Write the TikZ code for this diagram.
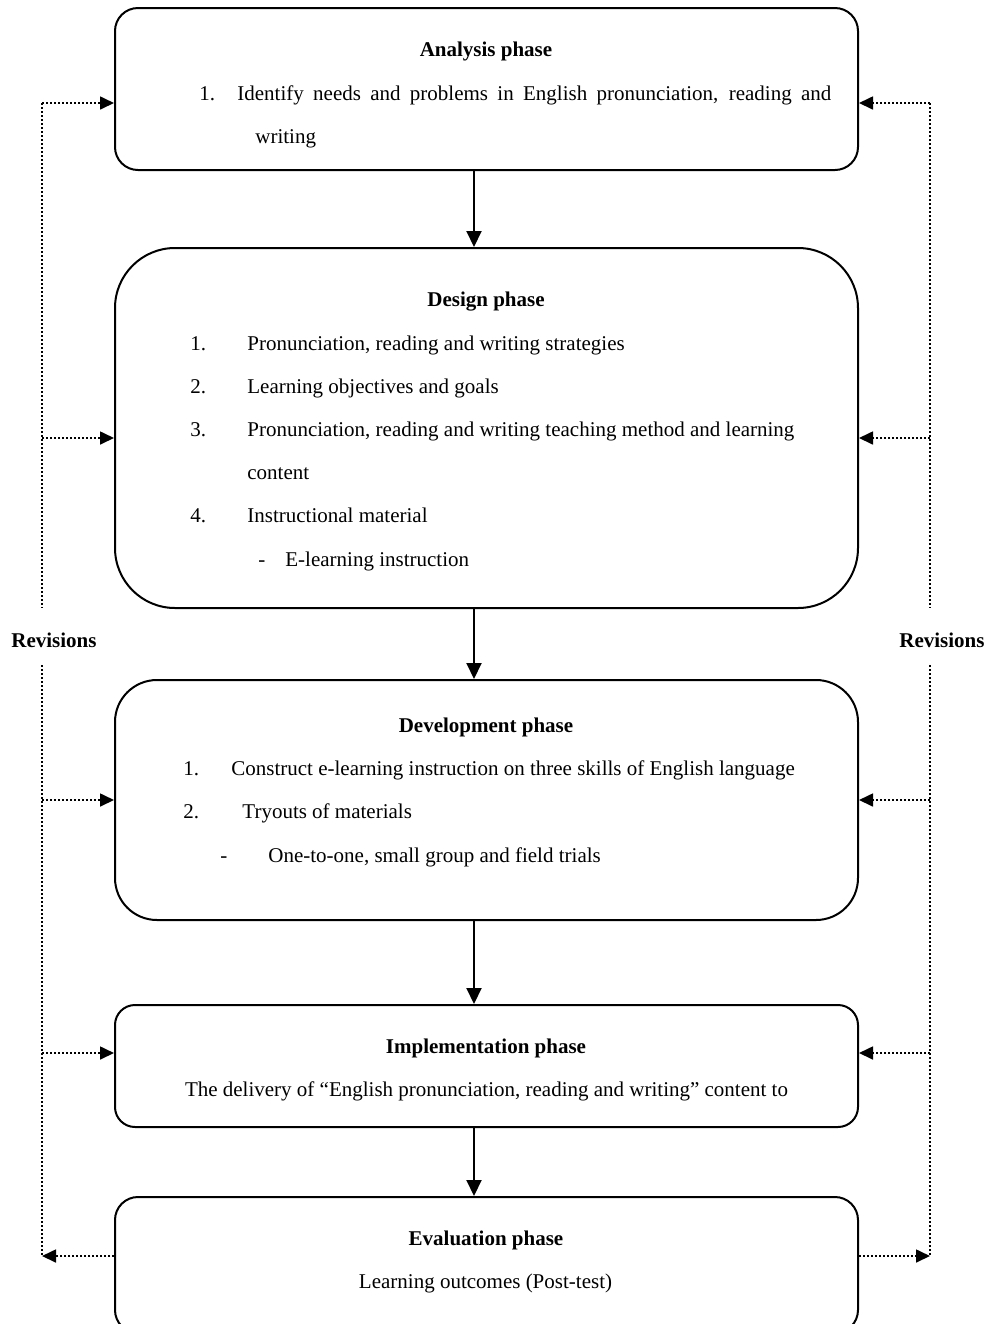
\documentclass[tikz,border=0pt]{standalone}
\usepackage{fontspec}
\setmainfont{Liberation Serif}
\usetikzlibrary{arrows.meta}
\usetikzlibrary{calc}
\tikzstyle{phase} = [rectangle, draw=black, line width=1pt, minimum width=371.5pt,
                     inner sep=0pt]
\tikzstyle{heading} = [anchor=base, inner sep=0pt, font=\fontsize{10.5}{21.5}\selectfont\bfseries]
\tikzstyle{entry} = [anchor=base west, inner sep=0pt]
\tikzstyle{flow} = [-{Triangle[length=8pt,width=7.5pt]}, line width=1pt]
\tikzstyle{rail} = [line width=0.85pt, dash pattern=on 0.85pt off 1.15pt]
\tikzstyle{revision} = [rail, -{Triangle[length=7pt,width=6.5pt]}]
\newcommand{\lbl}[2]{\makebox[#1][l]{#2}}

\begin{document}
\begin{tikzpicture}[x=0.5pt, y=-0.5pt, font=\fontsize{10.5}{21.5}\selectfont]
    \useasboundingbox (0,0) rectangle (987,1324);
    % phase boxes
    \node[phase, minimum height=81pt, rounded corners=11.5pt] (analysis) at (486.5,89) {};
    \node[phase, minimum height=180pt, rounded corners=30pt] (design) at (486.5,428) {};
    \node[phase, minimum height=120pt, rounded corners=21pt] (develop) at (486.5,800) {};
    \node[phase, minimum height=61pt, rounded corners=10pt] (implement) at (486.5,1066) {};
    \node[phase, minimum height=68pt, rounded corners=11.5pt] (evaluate) at (486.5,1265) {};
    % texts
    \node[heading] (antitle) at (486,56) {Analysis phase};
    \node[entry] (an1) at (199,100) {\lbl{19pt}{1.}\makebox[297pt][s]{Identify needs and problems in English pronunciation, reading and}};
    \node[entry] (an2) at (255,143) {writing};
    \node[heading] (detitle) at (486,306) {Design phase};
    \node[entry] (de1) at (190,350) {\lbl{28.5pt}{1.}Pronunciation, reading and writing strategies};
    \node[entry] (de2) at (190,393) {\lbl{28.5pt}{2.}Learning objectives and goals};
    \node[entry] (de3) at (190,436) {\lbl{28.5pt}{3.}Pronunciation, reading and writing teaching method and learning};
    \node[entry] (de3b) at (247,479) {content};
    \node[entry] (de4) at (190,522) {\lbl{28.5pt}{4.}Instructional material};
    \node[entry] (de5) at (258,566) {\lbl{13.5pt}{-}E-learning instruction};
    \node[heading] (dvtitle) at (486,732) {Development phase};
    \node[entry] (dv1) at (183,775) {\lbl{24pt}{1.}Construct e-learning instruction on three skills of English language};
    \node[entry] (dv2) at (183,818) {\lbl{29.5pt}{2.}Tryouts of materials};
    \node[entry] (dv3) at (220,862) {\lbl{24pt}{-}One-to-one, small group and field trials};
    \node[heading] (imtitle) at (486,1053) {Implementation phase};
    \node[anchor=base, inner sep=0pt] (im1) at (486.5,1096) {The delivery of “English pronunciation, reading and writing” content to};
    \node[heading] (evtitle) at (486,1245) {Evaluation phase};
    \node[anchor=base, inner sep=0pt] (ev1) at (485.5,1288) {Learning outcomes (Post-test)};
    \node[heading] (revleft) at (54,647) {Revisions};
    \node[heading] (revright) at (942,647) {Revisions};
    % main flow
    \coordinate (axis) at (474,0);
    \draw[flow] (analysis.south -| axis) -- (design.north -| axis);
    \draw[flow] (design.south -| axis) -- (develop.north -| axis);
    \draw[flow] (develop.south -| axis) -- (implement.north -| axis);
    \draw[flow] (implement.south -| axis) -- (evaluate.north -| axis);
    % revision rails
    \coordinate (la) at (42,103);   \coordinate (ra) at (930,103);
    \coordinate (ld) at (42,438);   \coordinate (rd) at (930,438);
    \coordinate (lv) at (42,800);   \coordinate (rv) at (930,800);
    \coordinate (li) at (42,1053);  \coordinate (ri) at (930,1053);
    \coordinate (le) at (42,1256);  \coordinate (re) at (930,1256);
    \coordinate (lgapa) at (42,608); \coordinate (lgapb) at (42,665);
    \coordinate (rgapa) at (930,608); \coordinate (rgapb) at (930,665);
    \draw[rail] (la) -- (lgapa) (lgapb) -- (le);
    \draw[rail] (ra) -- (rgapa) (rgapb) -- (re);
    \draw[revision] (la) -- (la -| analysis.west);
    \draw[revision] (ld) -- (ld -| design.west);
    \draw[revision] (lv) -- (lv -| develop.west);
    \draw[revision] (li) -- (li -| implement.west);
    \draw[revision] (le -| evaluate.west) -- (le);
    \draw[revision] (ra) -- (ra -| analysis.east);
    \draw[revision] (rd) -- (rd -| design.east);
    \draw[revision] (rv) -- (rv -| develop.east);
    \draw[revision] (ri) -- (ri -| implement.east);
    \draw[revision] (re -| evaluate.east) -- (re);
\end{tikzpicture}
\end{document}
